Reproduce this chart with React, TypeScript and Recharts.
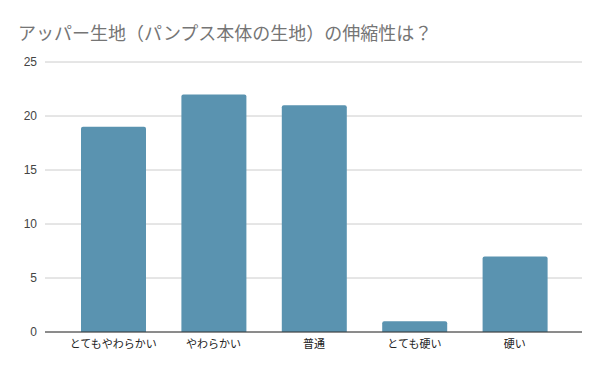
import React from "react";
import { BarChart, Bar, XAxis, YAxis, CartesianGrid } from "recharts";

const categories = ["とてもやわらかい", "やわらかい", "普通", "とても硬い", "硬い"];
const counts = [19, 22, 21, 1, 7];
const yTicks = [0, 5, 10, 15, 20, 25];
const title = "アッパー生地（パンプス本体の生地）の伸縮性は？";

const data = categories.map((c, i) => ({ name: c, value: counts[i] }));

const FONT = "Arial, 'Liberation Sans', 'Noto Sans CJK JP', sans-serif";

export default function App() {
  return (
    <div style={{ position: "absolute", left: 0, top: 0, width: 600, height: 371, background: "#fff" }}>
      <div
        style={{
          position: "absolute",
          left: 18,
          top: 20,
          fontSize: 18,
          lineHeight: "24px",
          color: "#757575",
          fontFamily: "'Noto Sans CJK JP', sans-serif",
          whiteSpace: "nowrap",
        }}
      >
        {title}
      </div>
      <BarChart
        width={600}
        height={371}
        data={data}
        margin={{ top: 62, right: 18, bottom: 9, left: 0 }}
        barSize={65}
      >
        <CartesianGrid vertical={false} stroke="#cccccc" />
        <XAxis
          dataKey="name"
          interval={0}
          padding={{ left: 18, right: 17 }}
          tickLine={false}
          axisLine={{ stroke: "#333333" }}
          tick={{ fill: "#222222", fontSize: 11, fontFamily: FONT }}
          height={30}
        />
        <YAxis
          domain={[0, 25]}
          ticks={yTicks}
          width={45}
          tickLine={false}
          axisLine={false}
          tick={{ fill: "#444444", fontSize: 12, fontFamily: FONT }}
        />
        <Bar dataKey="value" fill="#5a93b0" radius={[2, 2, 0, 0]} isAnimationActive={false} />
      </BarChart>
    </div>
  );
}
